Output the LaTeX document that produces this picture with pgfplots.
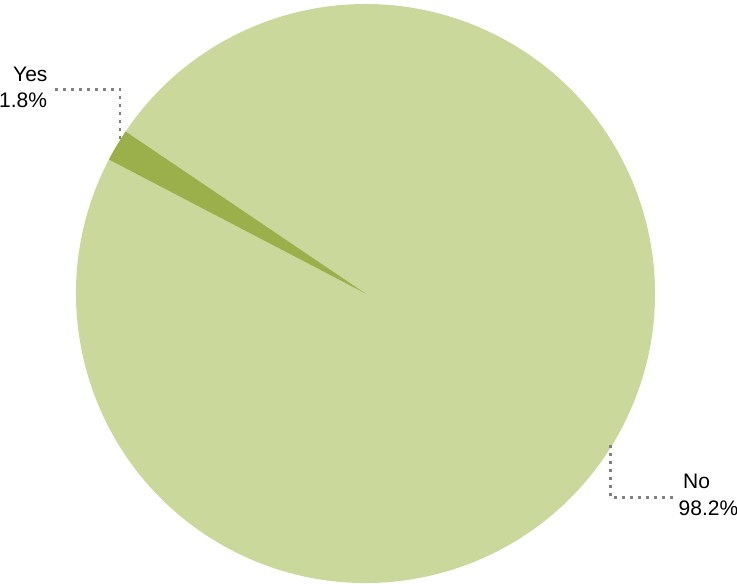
\documentclass[border=0pt]{standalone}
\usepackage{pgfplots}
\pgfplotsset{compat=1.18}
\usepackage{fontspec}
\setmainfont{Liberation Sans}
\definecolor{nocol}{RGB}{202,216,156}
\definecolor{yescol}{RGB}{155,175,74}
\definecolor{leader}{RGB}{128,128,128}
% data (percent)
\def\yesval{1.8}
\def\noval{98.2}
\def\midyes{149.2}
\begin{document}
\begin{tikzpicture}
\pgfmathsetmacro{\yesA}{\midyes-\yesval*3.6/2}
\pgfmathsetmacro{\yesB}{\midyes+\yesval*3.6/2}
\pgfmathsetmacro{\noB}{\yesB+\noval*3.6}
\begin{axis}[
  name=ax,
  width=737pt, height=584pt, scale only axis,
  xmin=0, xmax=737, ymin=0, ymax=584,
  hide axis, clip=false,
]
% No slice
\fill[nocol] (axis cs:365.5,290.5) -- ++(\yesB:289.5pt) arc[start angle=\yesB, end angle=\noB, radius=289.5pt] -- cycle;
% Yes slice
\fill[yescol] (axis cs:365.5,290.5) -- ++(\yesA:289.5pt) arc[start angle=\yesA, end angle=\yesB, radius=289.5pt] -- cycle;
% leader lines
\draw[leader, line width=2.6pt, dash pattern=on 2.6pt off 5.4pt]
  (axis cs:55,494.5) -- (axis cs:120,494.5) -- (axis cs:120,443);
\draw[leader, line width=2.6pt, dash pattern=on 2.6pt off 5.4pt]
  (axis cs:610.5,139) -- (axis cs:610.5,86.5) -- (axis cs:674,86.5);
% labels
\node[anchor=base west, inner sep=0pt, font=\fontsize{21}{24}\selectfont] at (axis cs:13,502) {Yes};
\node[anchor=base west, inner sep=0pt, font=\fontsize{21}{24}\selectfont] at (axis cs:-1,476) {1.8\%};
\node[anchor=base west, inner sep=0pt, font=\fontsize{21}{24}\selectfont] at (axis cs:683,95) {No};
\node[anchor=base west, inner sep=0pt, font=\fontsize{21}{24}\selectfont] at (axis cs:678.5,68.3) {98.2\%};
\end{axis}
\pgfresetboundingbox
\path[use as bounding box] (ax.south west) rectangle (ax.north east);
\end{tikzpicture}
\end{document}
